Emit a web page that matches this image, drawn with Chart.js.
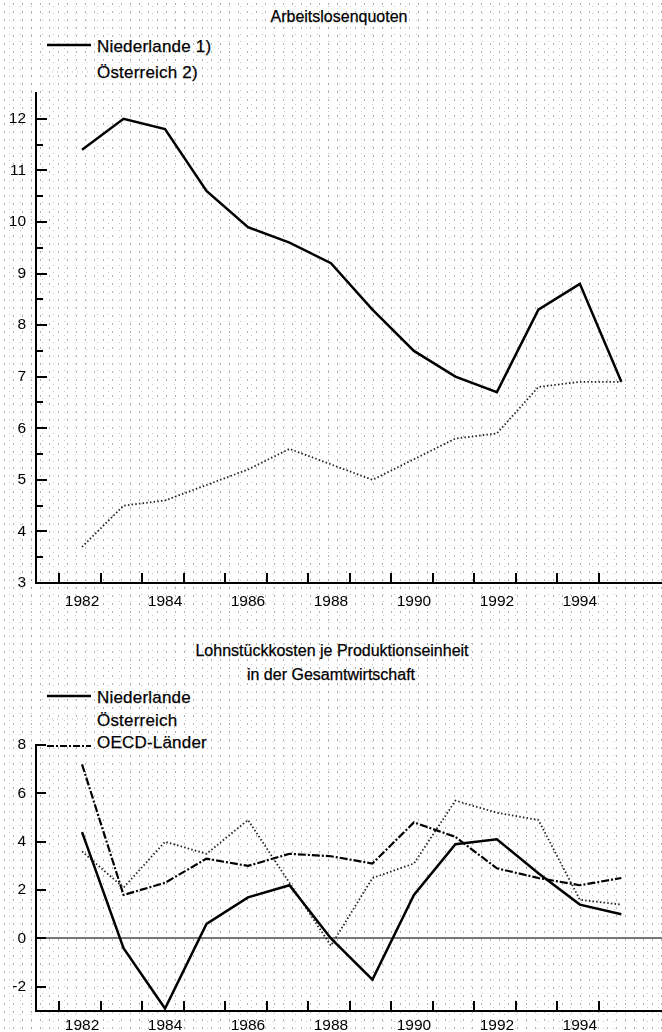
<!DOCTYPE html>
<html><head><meta charset="utf-8">
<script src="https://cdn.jsdelivr.net/npm/chart.js@4"></script>
<style>
html,body{margin:0;padding:0;}
body{width:662px;height:1032px;position:relative;overflow:hidden;background-color:#fff;
  background-image:radial-gradient(circle, rgba(0,0,0,0.3) 0.5px, transparent 0.9px),
                   radial-gradient(circle, rgba(0,0,0,0.22) 0.5px, transparent 0.9px);
  background-size:9px 8px, 11px 7px;
  background-position:0 0, 4px 3px;
  font-family:'Liberation Sans',Arial,sans-serif;color:#000;}
.txt{position:absolute;white-space:nowrap;line-height:1;transform:translateY(-50%);-webkit-text-stroke:0.25px #000;}
.ttl{font-size:16px;transform:translate(-50%,-50%);}
.lg{font-size:17px;left:97px;letter-spacing:0.2px;}
svg.smp{position:absolute;left:44px;width:50px;height:8px;transform:translateY(-50%);}
canvas{position:absolute;left:0;}
</style></head><body>

<div class="txt ttl" style="left:339px;top:17px;">Arbeitslosenquoten</div>
<svg class="smp" style="top:45px"><line x1="3" y1="4" x2="47" y2="4" stroke="#000" stroke-width="2.5"/></svg>
<div class="txt lg" style="top:46px;">Niederlande 1)</div>
<svg class="smp" style="top:72px"><line x1="3" y1="4" x2="47" y2="4" stroke="#bbb" stroke-width="1" stroke-dasharray="1 4"/></svg>
<div class="txt lg" style="top:72px;">Österreich 2)</div>

<canvas id="c1" width="662" height="532" style="top:83px"></canvas>

<div class="txt ttl" style="left:332px;top:651px;">Lohnstückkosten je Produktionseinheit</div>
<div class="txt ttl" style="left:331px;top:675px;">in der Gesamtwirtschaft</div>
<svg class="smp" style="top:696px"><line x1="3" y1="4" x2="47" y2="4" stroke="#000" stroke-width="2.5"/></svg>
<div class="txt lg" style="top:697px;">Niederlande</div>
<svg class="smp" style="top:719px"><line x1="3" y1="4" x2="47" y2="4" stroke="#bbb" stroke-width="1" stroke-dasharray="1 4"/></svg>
<div class="txt lg" style="top:720px;">Österreich</div>
<svg class="smp" style="top:746px"><line x1="3" y1="4" x2="47" y2="4" stroke="#000" stroke-width="2" stroke-dasharray="7 2 2 2"/></svg>
<div class="txt lg" style="top:742px;">OECD-Länder</div>

<canvas id="c2" width="662" height="297" style="top:735px"></canvas>

<script>
// ---- data ----
const years = [1982,1983,1984,1985,1986,1987,1988,1989,1990,1991,1992,1993,1994,1995];
const xLabelYears = [1982,1984,1986,1988,1990,1992,1994];

// Arbeitslosenquoten
const nlUnemp = [11.4,12.0,11.8,10.6,9.9,9.6,9.2,8.3,7.5,7.0,6.7,8.3,8.8,6.9];
const atUnemp = [3.7,4.5,4.6,4.9,5.2,5.6,5.3,5.0,5.4,5.8,5.9,6.8,6.9,6.9];
const unempTickLabels = [3,4,5,6,7,8,9,10,11,12];

// Lohnstückkosten je Produktionseinheit
const nlULC   = [4.4,-0.4,-2.9,0.6,1.7,2.2,0.0,-1.7,1.8,3.9,4.1,2.7,1.4,1.0];
const atULC   = [3.6,2.1,4.0,3.5,4.9,2.3,-0.3,2.5,3.1,5.7,5.2,4.9,1.6,1.4];
const oecdULC = [7.2,1.8,2.3,3.3,3.0,3.5,3.4,3.1,4.8,4.2,2.9,2.5,2.2,2.5];
const ulcTickLabels = [-2,0,2,4,6,8];

// ---- helpers ----
const FONT = {family:"'Liberation Sans', Arial, sans-serif", size:15.5};
const pts = vals => years.map((y,i)=>({x:y, y:vals[i]}));
const X_MIN = 1980.89, X_MAX = 1995.98;
const yearBoundaries = years.map(y => y - 0.55);

const tickMarks = {
  id:'tickMarks',
  afterDraw(chart, args, opts){
    const ctx = chart.ctx, a = chart.chartArea;
    ctx.save(); ctx.strokeStyle = '#000'; ctx.lineWidth = 2;
    (opts.x||[]).forEach(t=>{
      const px = Math.round(chart.scales.x.getPixelForValue(t[0]));
      ctx.beginPath(); ctx.moveTo(px, a.bottom); ctx.lineTo(px, a.bottom - t[1]); ctx.stroke();
    });
    (opts.y||[]).forEach(t=>{
      const py = Math.round(chart.scales.y.getPixelForValue(t[0]));
      ctx.beginPath(); ctx.moveTo(a.left, py); ctx.lineTo(a.left + t[1], py); ctx.stroke();
    });
    ctx.restore();
  }
};

function xScale(h, pad){
  return {
    type:'linear', min:X_MIN, max:X_MAX,
    afterBuildTicks: s => { s.ticks = xLabelYears.map(v=>({value:v})); },
    afterFit: s => { s.height = h; s.paddingLeft = 0; s.paddingRight = 0; },
    ticks:{autoSkip:false, maxRotation:0, minRotation:0, color:'#000', font:FONT, padding:pad, callback:v=>String(v)},
    grid:{display:false, drawTicks:false},
    border:{display:true, color:'#000', width:2}
  };
}

// ---- chart 1 ----
const unempMajor = unempTickLabels.map(v=>[v,11]);
const unempMinor = unempTickLabels.slice(0,-1).map(v=>[v+0.5,7]);
new Chart(document.getElementById('c1'), {
  type:'line',
  data:{datasets:[
    {label:'Niederlande 1)', data:pts(nlUnemp), borderColor:'#000', borderWidth:2.5, pointRadius:0, tension:0},
    {label:'Österreich 2)', data:pts(atUnemp), borderColor:'#222', borderWidth:1.8, borderDash:[1.5,2.2], pointRadius:0, tension:0}
  ]},
  options:{
    responsive:false, animation:false, devicePixelRatio:1,
    layout:{padding:{top:10,left:0,right:0,bottom:0}},
    plugins:{legend:{display:false}, tooltip:{enabled:false},
      tickMarks:{x:yearBoundaries.map(v=>[v,10]), y:unempMajor.concat(unempMinor)}},
    scales:{
      x:xScale(32, 9),
      y:{min:3, max:12.5,
        afterBuildTicks: s => { s.ticks = unempTickLabels.map(v=>({value:v})); },
        afterFit: s => { s.width = 36; s.paddingTop = 0; s.paddingBottom = 0; },
        ticks:{color:'#000', font:FONT, padding:10, callback:v=>String(v)},
        grid:{display:false, drawTicks:false},
        border:{display:true, color:'#000', width:2}}
    }
  },
  plugins:[tickMarks]
});

// ---- chart 2 ----
new Chart(document.getElementById('c2'), {
  type:'line',
  data:{datasets:[
    {label:'Niederlande', data:pts(nlULC), borderColor:'#000', borderWidth:2.5, pointRadius:0, tension:0},
    {label:'Österreich', data:pts(atULC), borderColor:'#222', borderWidth:1.8, borderDash:[1.5,2.2], pointRadius:0, tension:0},
    {label:'OECD-Länder', data:pts(oecdULC), borderColor:'#000', borderWidth:2.2, borderDash:[8,2,2,2], pointRadius:0, tension:0}
  ]},
  options:{
    responsive:false, animation:false, devicePixelRatio:1,
    layout:{padding:{top:10,left:0,right:0,bottom:0}},
    plugins:{legend:{display:false}, tooltip:{enabled:false},
      tickMarks:{x:yearBoundaries.map(v=>[v,10]), y:ulcTickLabels.map(v=>[v,10])}},
    scales:{
      x:xScale(21, 5),
      y:{min:-3, max:8,
        afterBuildTicks: s => { s.ticks = ulcTickLabels.map(v=>({value:v})); },
        afterFit: s => { s.width = 36; s.paddingTop = 0; s.paddingBottom = 0; },
        ticks:{color:'#000', font:FONT, padding:10, callback:v=>String(v)},
        grid:{display:true, drawTicks:false, drawOnChartArea:true, lineWidth:2,
          color: c => (c.tick && c.tick.value === 0) ? '#777' : 'rgba(0,0,0,0)'},
        border:{display:true, color:'#000', width:2}}
    }
  },
  plugins:[tickMarks]
});
</script>
</body></html>
